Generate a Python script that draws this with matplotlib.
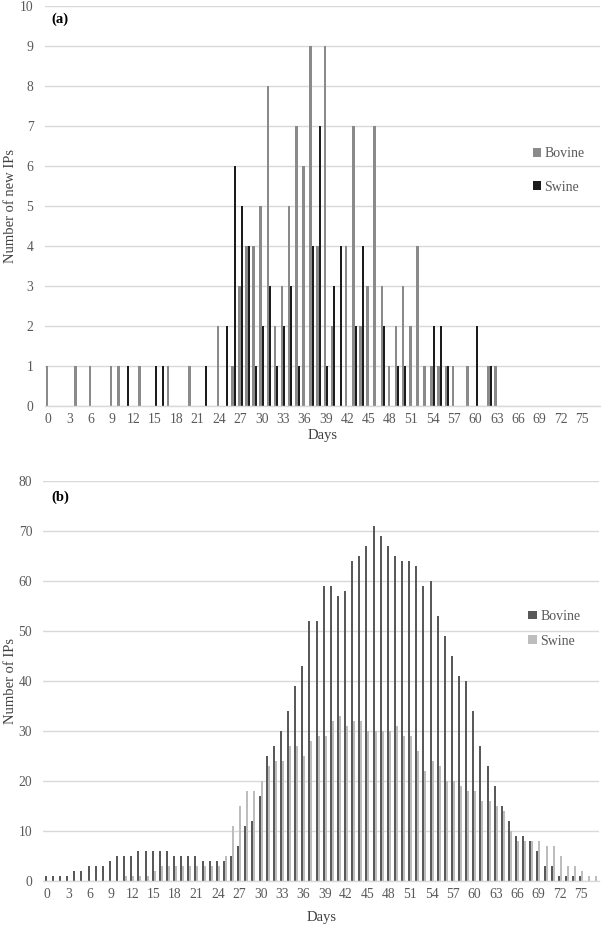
import matplotlib
matplotlib.use("Agg")
import matplotlib.pyplot as plt
import numpy as np

plt.rcParams['font.family'] = ['Liberation Serif', 'DejaVu Serif']

days = list(range(78))
tick_days = list(range(0, 76, 3))

# Panel (a): number of new IPs per day
bovine_new_dict = {0: 1, 4: 1, 6: 1, 9: 1, 10: 1, 13: 1, 17: 1, 20: 1, 24: 2, 26: 1,
                   27: 3, 28: 4, 29: 4, 30: 5, 31: 8, 32: 2, 33: 3, 34: 5, 35: 7, 36: 6,
                   37: 9, 38: 4, 39: 9, 40: 2, 42: 4, 43: 7, 44: 2, 45: 3, 46: 7, 47: 3,
                   48: 1, 49: 2, 50: 3, 51: 2, 52: 4, 53: 1, 54: 1, 55: 1, 56: 1, 57: 1,
                   59: 1, 62: 1, 63: 1}
swine_new_dict = {11: 1, 15: 1, 16: 1, 22: 1, 25: 2, 26: 6, 27: 5, 28: 4, 29: 1, 30: 2,
                  31: 3, 32: 1, 33: 2, 34: 3, 35: 1, 37: 4, 38: 7, 39: 1, 40: 3, 41: 4,
                  43: 2, 44: 4, 47: 2, 49: 1, 50: 1, 54: 2, 55: 2, 56: 1, 60: 2, 62: 1}
bovine_new = [bovine_new_dict.get(d, 0) for d in days]
swine_new = [swine_new_dict.get(d, 0) for d in days]

# Panel (b): number of IPs per day
bovine_ips = [1, 1, 1, 1, 2, 2, 3, 3, 3, 4,
              5, 5, 5, 6, 6, 6, 6, 6, 5, 5,
              5, 5, 4, 4, 4, 4, 5, 7, 11, 12,
              17, 25, 27, 30, 34, 39, 43, 52, 52, 59,
              59, 57, 58, 64, 65, 67, 71, 69, 67, 65,
              64, 64, 63, 59, 60, 53, 49, 45, 41, 40,
              34, 27, 23, 19, 15, 12, 9, 9, 8, 6,
              3, 3, 1, 1, 1, 1, 0, 0]
swine_ips = [0, 0, 0, 0, 0, 0, 0, 0, 0, 0,
             0, 1, 1, 1, 1, 2, 3, 3, 3, 3,
             3, 3, 3, 3, 3, 5, 11, 15, 18, 18,
             20, 23, 24, 24, 27, 27, 25, 28, 29, 29,
             32, 33, 31, 32, 32, 30, 30, 30, 30, 31,
             29, 29, 26, 22, 24, 23, 20, 20, 19, 18,
             18, 16, 16, 15, 14, 10, 8, 8, 8, 8,
             7, 7, 5, 3, 3, 2, 1, 1]

W, H = 603, 927
fig = plt.figure(figsize=(W / 100, H / 100), dpi=100)

tick_color = '#595959'
label_color = '#404040'
grid_color = '#d9d9d9'


def style_axes(ax, ymax, ystep):
    ax.set_xlim(-0.5, 77.5)
    ax.set_ylim(0, ymax)
    ax.set_yticks(np.arange(0, ymax + 0.1, ystep))
    ax.set_xticks(tick_days)
    ax.set_xticklabels([str(d) for d in tick_days])
    ax.yaxis.grid(True, color=grid_color, linewidth=1.0)
    ax.set_axisbelow(True)
    for s in ['top', 'right', 'left']:
        ax.spines[s].set_visible(False)
    ax.spines['bottom'].set_color(grid_color)
    ax.spines['bottom'].set_linewidth(1.0)
    ax.tick_params(axis='both', length=0, colors=tick_color, labelsize=9.8)
    ax.tick_params(axis='y', pad=8)
    ax.tick_params(axis='x', pad=5)


# ---- Panel (a)
ax1 = fig.add_axes([44.5 / W, 1 - 405.7 / H, 555.5 / W, 400 / H])
x = np.array(days)
ax1.bar(x - 0.14, bovine_new, width=0.36, color='#8a8a8a', label='Bovine', linewidth=0)
ax1.bar(x + 0.18, swine_new, width=0.28, color='#1c1c1c', label='Swine', linewidth=0)
style_axes(ax1, 10, 1)
ax1.set_xlabel('Days', fontsize=10.5, color=label_color)
ax1.set_ylabel('Number of new IPs', fontsize=10.5, color=label_color)
ax1.xaxis.set_label_coords(0.5, -0.057)
ax1.yaxis.set_label_coords(-0.050, 0.5)
ax1.text(0.013, 0.967, '(a)', transform=ax1.transAxes, fontsize=10.5,
         fontweight='bold', va='center', ha='left', color='black')
ax1.legend(loc='center left', bbox_to_anchor=(0.879, 0.588), frameon=False,
           fontsize=10, handlelength=0.6, handleheight=0.6, handletextpad=0.25,
           labelspacing=1.45, borderpad=0, borderaxespad=0, labelcolor=tick_color)

# ---- Panel (b)
ax2 = fig.add_axes([43.3 / W, 1 - 881 / H, 555.7 / W, 400.3 / H])
ax2.bar(x - 0.14, bovine_ips, width=0.28, color='#595959', label='Bovine', linewidth=0)
ax2.bar(x + 0.14, swine_ips, width=0.28, color='#bdbdbd', label='Swine', linewidth=0)
style_axes(ax2, 80, 10)
ax2.set_xlabel('Days', fontsize=10.5, color=label_color)
ax2.set_ylabel('Number of IPs', fontsize=10.5, color=label_color)
ax2.xaxis.set_label_coords(0.5, -0.074)
ax2.yaxis.set_label_coords(-0.048, 0.5)
ax2.text(0.015, 0.959, '(b)', transform=ax2.transAxes, fontsize=10.5,
         fontweight='bold', va='center', ha='left', color='black')
ax2.legend(loc='center left', bbox_to_anchor=(0.873, 0.630), frameon=False,
           fontsize=10, handlelength=0.6, handleheight=0.6, handletextpad=0.25,
           labelspacing=0.85, borderpad=0, borderaxespad=0, labelcolor=tick_color)

fig.savefig('out.png', dpi=100)
